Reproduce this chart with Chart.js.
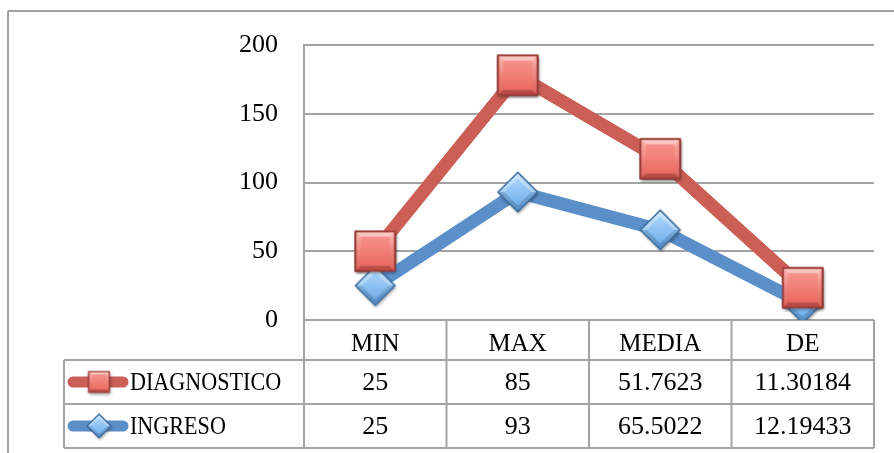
<!DOCTYPE html>
<html lang="es">
<head>
<meta charset="utf-8">
<title>DIAGNOSTICO / INGRESO</title>
<script src="https://cdn.jsdelivr.net/npm/chart.js@4.4.7/dist/chart.umd.min.js"></script>
<style>
  html, body {
    margin: 0;
    padding: 0;
    background: #ffffff;
  }
  #statsChart {
    display: block;
  }
</style>
</head>
<body>
<canvas id="statsChart" width="894" height="453"></canvas>
<script>
const categories = ["MIN", "MAX", "MEDIA", "DE"];
const diagnosticoValues = [25, 85, 51.7623, 11.30184];
const ingresoValues = [25, 93, 65.5022, 12.19433];
const diagnosticoLabels = ["25", "85", "51.7623", "11.30184"];
const ingresoLabels = ["25", "93", "65.5022", "12.19433"];
const yTicks = [0, 50, 100, 150, 200];

const RED = "#cb5f56";
const BLUE = "#5a8fc9";
const GRID = "#a3a3a3";
const FONT = "'Liberation Serif', 'Times New Roman', serif";

// glossy bevelled marker drawn into a small canvas, used as pointStyle
function makeMarker(shape, size, colors) {
  const pad = 4;
  const canvas = document.createElement("canvas");
  canvas.width = size + pad * 2;
  canvas.height = size + pad * 2;
  const ctx = canvas.getContext("2d");
  const c = canvas.width / 2;
  const h = size / 2;

  let outer;
  if (shape === "square") {
    outer = [[c - h, c - h], [c + h, c - h], [c + h, c + h], [c - h, c + h]];
  } else {
    outer = [[c, c - h], [c + h, c], [c, c + h], [c - h, c]];
  }
  const inset = shape === "square" ? 0.72 : 0.66;
  const inner = outer.map(([x, y]) => [c + (x - c) * inset, c + (y - c) * inset]);

  const polygon = (points) => {
    ctx.beginPath();
    points.forEach(([x, y], i) => (i ? ctx.lineTo(x, y) : ctx.moveTo(x, y)));
    ctx.closePath();
  };

  ctx.save();
  ctx.shadowColor = "rgba(0, 0, 0, 0.35)";
  ctx.shadowBlur = 3;
  ctx.shadowOffsetX = 1;
  ctx.shadowOffsetY = 2;
  polygon(outer);
  ctx.fillStyle = colors.edge;
  ctx.fill();
  ctx.restore();

  const body = outer.map(([x, y]) => [c + (x - c) * 0.94, c + (y - c) * 0.94]);
  const gradient = ctx.createLinearGradient(0, c - h, 0, c + h);
  gradient.addColorStop(0, colors.light);
  gradient.addColorStop(0.5, colors.mid);
  gradient.addColorStop(1, colors.dark);
  polygon(body);
  ctx.fillStyle = gradient;
  ctx.fill();

  // bevel facets, lit from above
  for (let i = 0; i < 4; i += 1) {
    const a = body[i];
    const b = body[(i + 1) % 4];
    const nx = b[1] - a[1];
    const ny = -(b[0] - a[0]);
    const len = Math.hypot(nx, ny);
    const lightness = -ny / len;
    polygon([a, b, inner[(i + 1) % 4], inner[i]]);
    ctx.fillStyle = lightness > 0.1
      ? `rgba(255, 255, 255, ${0.35 * lightness})`
      : lightness < -0.1
        ? `rgba(0, 0, 0, ${0.16 * -lightness})`
        : "rgba(255, 255, 255, 0.08)";
    ctx.fill();
  }

  polygon(inner);
  const face = ctx.createLinearGradient(0, c - h * inset, 0, c + h * inset);
  face.addColorStop(0, colors.face1);
  face.addColorStop(1, colors.face2);
  ctx.fillStyle = face;
  ctx.fill();

  polygon(outer);
  ctx.strokeStyle = colors.edge;
  ctx.lineWidth = 1.2;
  ctx.stroke();
  return canvas;
}

const redColors = {
  edge: "#9b3c37",
  light: "#fbb3ad",
  mid: "#ef7c74",
  dark: "#d9554e",
  face1: "#f6928a",
  face2: "#ec6c64",
};
const blueColors = {
  edge: "#3d6b9e",
  light: "#c6e3fd",
  mid: "#8cc3f3",
  dark: "#5a98da",
  face1: "#a8d4fa",
  face2: "#74b0eb",
};

const squareMarker = makeMarker("square", 40, redColors);
const diamondMarker = makeMarker("diamond", 40, blueColors);
const squareKey = makeMarker("square", 21, redColors);
const diamondKey = makeMarker("diamond", 24, blueColors);

function hLine(ctx, x1, x2, y) {
  ctx.beginPath();
  ctx.moveTo(x1, y);
  ctx.lineTo(x2, y);
  ctx.stroke();
}

function vLine(ctx, x, y1, y2) {
  ctx.beginPath();
  ctx.moveTo(x, y1);
  ctx.lineTo(x, y2);
  ctx.stroke();
}

// frame and data table grid under the series
const tableGrid = {
  id: "tableGrid",
  beforeDatasetsDraw(chart) {
    const ctx = chart.ctx;
    const area = chart.chartArea;
    const bottom = chart.height - 5;
    const rowTop = area.bottom + 40;
    const rowMid = rowTop + 44;
    ctx.save();
    ctx.strokeStyle = GRID;
    ctx.lineWidth = 2;
    hLine(ctx, 8, chart.width, 11);
    vLine(ctx, 8, 11, chart.height);

    hLine(ctx, 64, area.right, rowTop);
    hLine(ctx, 64, area.right, rowMid);
    hLine(ctx, 64, area.right, bottom);
    vLine(ctx, 64, rowTop, bottom);
    vLine(ctx, area.left, area.bottom, bottom);
    const step = (area.right - area.left) / categories.length;
    for (let i = 1; i <= categories.length; i += 1) {
      vLine(ctx, area.left + step * i, area.bottom, bottom);
    }
    ctx.restore();
  },
};

// keep DIAGNOSTICO drawn above INGRESO while INGRESO stays at the bottom of the stack
const diagnosticoOnTop = {
  id: "diagnosticoOnTop",
  afterDatasetsDraw(chart) {
    chart.getDatasetMeta(1).controller.draw();
  },
};

// legend keys and values of the data table
const tableValues = {
  id: "tableValues",
  afterDraw(chart) {
    const ctx = chart.ctx;
    const area = chart.chartArea;
    const xScale = chart.scales.x;
    const rows = [
      { label: "DIAGNOSTICO", color: RED, key: squareKey, values: diagnosticoLabels, y: area.bottom + 62 },
      { label: "INGRESO", color: BLUE, key: diamondKey, values: ingresoLabels, y: area.bottom + 106 },
    ];
    ctx.save();
    rows.forEach((row) => {
      ctx.strokeStyle = row.color;
      ctx.lineWidth = 11;
      ctx.lineCap = "round";
      hLine(ctx, 73, 123, row.y);
      ctx.drawImage(row.key, 99 - row.key.width / 2, row.y - row.key.height / 2);

      ctx.fillStyle = "#000000";
      ctx.textBaseline = "middle";
      ctx.textAlign = "left";
      ctx.font = `25px ${FONT}`;
      ctx.save();
      ctx.translate(130, row.y + 1);
      ctx.scale(0.885, 1);
      ctx.fillText(row.label, 0, 0);
      ctx.restore();

      ctx.textAlign = "center";
      ctx.font = `26px ${FONT}`;
      row.values.forEach((text, index) => {
        ctx.fillText(text, xScale.getPixelForValue(index), row.y + 1);
      });
    });
    ctx.restore();
  },
};

new Chart(document.querySelector("#statsChart"), {
  type: "line",
  data: {
    labels: categories,
    datasets: [
      {
        label: "INGRESO",
        data: ingresoValues,
        borderColor: BLUE,
        backgroundColor: BLUE,
        borderWidth: 13,
        borderCapStyle: "round",
        borderJoinStyle: "round",
        pointStyle: diamondMarker,
        pointRadius: 1,
        pointHoverRadius: 1,
        pointBorderWidth: 0,
        tension: 0,
        fill: false,
      },
      {
        label: "DIAGNOSTICO",
        data: diagnosticoValues,
        borderColor: RED,
        backgroundColor: RED,
        borderWidth: 13,
        borderCapStyle: "round",
        borderJoinStyle: "round",
        pointStyle: squareMarker,
        pointRadius: 1,
        pointHoverRadius: 1,
        pointBorderWidth: 0,
        tension: 0,
        fill: false,
      },
    ],
  },
  options: {
    responsive: false,
    animation: false,
    events: [],
    layout: {
      padding: { top: 45, right: 20, bottom: 0, left: 0 },
    },
    plugins: {
      legend: { display: false },
      tooltip: { enabled: false },
    },
    scales: {
      x: {
        offset: true,
        grid: { display: false, offset: true },
        border: { display: false },
        ticks: {
          color: "#000000",
          font: { family: FONT, size: 25 },
          padding: 1,
          maxRotation: 0,
        },
        afterFit(scale) {
          scale.height = 133;
          scale.paddingLeft = 0;
          scale.paddingRight = 0;
        },
      },
      y: {
        stacked: true,
        min: 0,
        max: 200,
        afterBuildTicks(scale) {
          scale.ticks = yTicks.map((value) => ({ value }));
        },
        ticks: {
          color: "#000000",
          font: { family: FONT, size: 26 },
          padding: 26,
        },
        grid: {
          color: GRID,
          lineWidth: 2,
          drawTicks: false,
        },
        border: {
          color: GRID,
          width: 2,
        },
        afterFit(scale) {
          scale.width = 304;
        },
      },
    },
  },
  plugins: [tableGrid, diagnosticoOnTop, tableValues],
});
</script>
</body>
</html>
